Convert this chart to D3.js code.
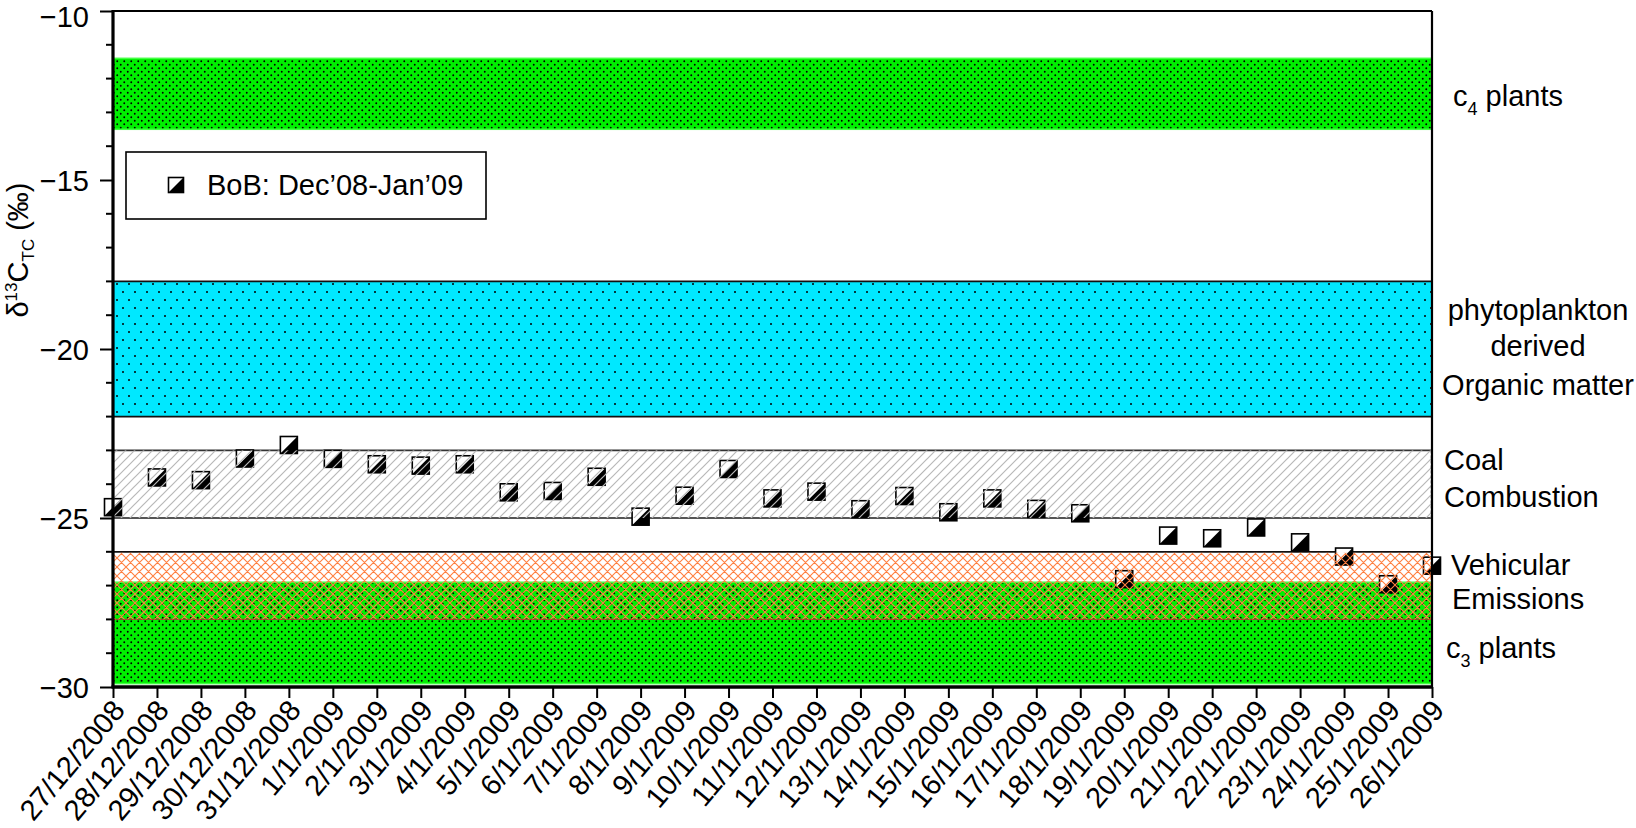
<!DOCTYPE html>
<html>
<head>
<meta charset="utf-8">
<script src="https://cdn.jsdelivr.net/npm/d3@7/dist/d3.min.js"></script>
<style>
  html, body { margin: 0; padding: 0; background: #fff; }
  svg { display: block; }
  text { font-family: "Liberation Sans", Arial, Helvetica, sans-serif; fill: #000; }
</style>
</head>
<body>
<svg id="chart" width="1636" height="828"></svg>
<script>
// ---------------- DATA ----------------
const dates = ["27/12/2008","28/12/2008","29/12/2008","30/12/2008","31/12/2008",
  "1/1/2009","2/1/2009","3/1/2009","4/1/2009","5/1/2009","6/1/2009","7/1/2009",
  "8/1/2009","9/1/2009","10/1/2009","11/1/2009","12/1/2009","13/1/2009","14/1/2009",
  "15/1/2009","16/1/2009","17/1/2009","18/1/2009","19/1/2009","20/1/2009","21/1/2009",
  "22/1/2009","23/1/2009","24/1/2009","25/1/2009","26/1/2009"];
const d13C = [-24.68,-23.80,-23.88,-23.24,-22.84,
  -23.25,-23.41,-23.45,-23.41,-24.24,-24.20,-23.78,
  -24.96,-24.34,-23.55,-24.42,-24.22,-24.74,-24.35,
  -24.83,-24.42,-24.73,-24.86,-26.81,-25.52,-25.60,
  -25.28,-25.72,-26.14,-26.96,-26.41];
const seriesName = "BoB: Dec\u201908-Jan\u201909";
const yTickValues = [-10, -15, -20, -25, -30];
const yDomain = [-30, -10];

// source bands (upper and lower bound, ‰)
const bandNames  = ["c4 plants", "phytoplankton", "coal", "c3 plants", "vehicular"];
const bandUpper  = [-11.4, -18.0, -23.0, -26.9, -26.0];
const bandLower  = [-13.5, -22.0, -25.0, -29.9, -28.0];

// ---------------- LAYOUT ----------------
const svg = d3.select("#chart");
const L = 113, R = 1432, T = 11, B = 687;
const font = 29;

const x = d3.scalePoint().domain(dates).range([L, R]).padding(0);
const y = d3.scaleLinear().domain(yDomain).range([B, T]);

const defs = svg.append("defs");
// green dotted
const pg = defs.append("pattern").attr("id","greenDots").attr("patternUnits","userSpaceOnUse")
  .attr("width",7).attr("height",7);
pg.append("rect").attr("width",7).attr("height",7).attr("fill","#00f000");
pg.append("circle").attr("cx",1.75).attr("cy",1.75).attr("r",0.95).attr("fill","#000");
pg.append("circle").attr("cx",5.25).attr("cy",5.25).attr("r",0.95).attr("fill","#000");
// cyan sparse dots
const pc = defs.append("pattern").attr("id","cyanDots").attr("patternUnits","userSpaceOnUse")
  .attr("width",12).attr("height",16);
pc.append("rect").attr("width",12).attr("height",16).attr("fill","#00e8ff");
pc.append("circle").attr("cx",3).attr("cy",4).attr("r",1).attr("fill","#000");
pc.append("circle").attr("cx",9).attr("cy",12).attr("r",1).attr("fill","#000");
// gray diagonal hatch (lines only)
const ph = defs.append("pattern").attr("id","grayHatch").attr("patternUnits","userSpaceOnUse")
  .attr("width",9).attr("height",9);
ph.append("path").attr("d","M-2,11 L11,-2 M-2,2 L2,-2 M7,11 L11,7")
  .attr("stroke","#b8b8b8").attr("stroke-width",1.2).attr("fill","none");
// orange crosshatch (lines only)
const po = defs.append("pattern").attr("id","orangeX").attr("patternUnits","userSpaceOnUse")
  .attr("width",9).attr("height",9);
po.append("path").attr("d","M0,0 L9,9 M9,0 L0,9 M-1,8 L1,10 M8,-1 L10,1 M-1,1 L1,-1 M8,10 L10,8")
  .attr("stroke","#ff7f40").attr("stroke-width",1.1).attr("fill","none");

// ---------------- BANDS (fills) ----------------
const band = i => ({ y0: y(bandUpper[i]), y1: y(bandLower[i]) });
const plotW = R - L;

// c4
let b = band(0);
svg.append("rect").attr("x",L).attr("y",b.y0).attr("width",plotW).attr("height",b.y1-b.y0)
  .attr("fill","url(#greenDots)").attr("stroke","#44ff44").attr("stroke-width",1.5);
// phytoplankton
b = band(1);
svg.append("rect").attr("x",L).attr("y",b.y0).attr("width",plotW).attr("height",b.y1-b.y0)
  .attr("fill","url(#cyanDots)");
svg.append("line").attr("x1",L).attr("x2",R).attr("y1",b.y0).attr("y2",b.y0).attr("stroke","#111").attr("stroke-width",1.6);
svg.append("line").attr("x1",L).attr("x2",R).attr("y1",b.y1).attr("y2",b.y1).attr("stroke","#111").attr("stroke-width",1.6);
// c3
b = band(3);
svg.append("rect").attr("x",L).attr("y",b.y0).attr("width",plotW).attr("height",b.y1-b.y0)
  .attr("fill","url(#greenDots)").attr("stroke","#44ff44").attr("stroke-width",1.5);

// coal lines
b = band(2);
const coal = b;
svg.append("line").attr("x1",L).attr("x2",R).attr("y1",b.y0).attr("y2",b.y0).attr("stroke","#333").attr("stroke-width",1.6);
svg.append("line").attr("x1",L).attr("x2",R).attr("y1",b.y1).attr("y2",b.y1).attr("stroke","#555").attr("stroke-width",1.8);

// vehicular lines
b = band(4);
const veh = b;
svg.append("line").attr("x1",L).attr("x2",R).attr("y1",b.y0).attr("y2",b.y0).attr("stroke","#111").attr("stroke-width",1.8);
svg.append("line").attr("x1",L).attr("x2",R).attr("y1",b.y1).attr("y2",b.y1).attr("stroke","#8a4a2a").attr("stroke-width",1.2);

// ---------------- MARKERS ----------------
const ms = 17;
function marker(g, cx, cy, s) {
  g.append("rect").attr("x",cx-s/2).attr("y",cy-s/2).attr("width",s).attr("height",s)
    .attr("fill","#fff").attr("stroke","#000").attr("stroke-width",1.6);
  g.append("path").attr("d",`M${cx+s/2},${cy-s/2} L${cx+s/2},${cy+s/2} L${cx-s/2},${cy+s/2} Z`)
    .attr("fill","#000");
}
const mg = svg.append("g");
d13C.forEach((v, i) => marker(mg, x(dates[i]), y(v), ms));

// ---------------- HATCH OVERLAYS ----------------
svg.append("rect").attr("x",L).attr("y",coal.y0).attr("width",plotW).attr("height",coal.y1-coal.y0)
  .attr("fill","url(#grayHatch)");
svg.append("line").attr("x1",R-1).attr("x2",R-1).attr("y1",coal.y0).attr("y2",coal.y1)
  .attr("stroke","#999").attr("stroke-width",1).attr("stroke-dasharray","3,2");
svg.append("rect").attr("x",L).attr("y",veh.y0+1).attr("width",plotW).attr("height",veh.y1-veh.y0-1)
  .attr("fill","url(#orangeX)");
svg.append("line").attr("x1",R-1).attr("x2",R-1).attr("y1",veh.y0).attr("y2",veh.y1)
  .attr("stroke","#ff7f40").attr("stroke-width",1.2).attr("stroke-dasharray","3,2");

// ---------------- FRAME / AXES ----------------
svg.append("line").attr("x1",L).attr("x2",R).attr("y1",T).attr("y2",T).attr("stroke","#000").attr("stroke-width",2);
svg.append("line").attr("x1",R).attr("x2",R).attr("y1",T).attr("y2",B).attr("stroke","#000").attr("stroke-width",2.2);

const yAxis = d3.axisLeft(y).tickValues(yTickValues).tickSize(13)
  .tickFormat(d => d3.format("d")(d).replace("-", "\u2212"));
const yg = svg.append("g").attr("transform",`translate(${L},0)`).call(yAxis);
yg.select(".domain").remove();
yg.selectAll(".tick line").attr("stroke","#000").attr("stroke-width",2);
yg.selectAll(".tick text").attr("font-size",font).attr("x",-24)
  .attr("dy", d => d === yDomain[1] ? "0.52em" : "0.36em")
  .style("font-family","'Liberation Sans', Arial, sans-serif");
// minor ticks
const minor = d3.range(yDomain[0], yDomain[1] + 1).filter(v => !yTickValues.includes(v));
svg.append("g").selectAll("line").data(minor).join("line")
  .attr("x1",L-7).attr("x2",L).attr("y1",d=>y(d)).attr("y2",d=>y(d))
  .attr("stroke","#000").attr("stroke-width",2);
svg.append("line").attr("x1",L).attr("x2",L).attr("y1",T-1).attr("y2",B+1).attr("stroke","#000").attr("stroke-width",3.2);

const xAxis = d3.axisBottom(x).tickSize(11).tickSizeOuter(0);
const xg = svg.append("g").attr("transform",`translate(0,${B})`).call(xAxis);
xg.select(".domain").remove();
xg.selectAll(".tick line").attr("stroke","#000").attr("stroke-width",2);
xg.selectAll(".tick text").attr("font-size",font).attr("text-anchor","end")
  .attr("x",0).attr("y",0).attr("dy",0)
  .attr("transform","translate(13,24) rotate(-50)")
  .style("font-family","'Liberation Sans', Arial, sans-serif");
svg.append("line").attr("x1",L-1.5).attr("x2",R+1).attr("y1",B).attr("y2",B).attr("stroke","#000").attr("stroke-width",3.5);

// ---------------- Y TITLE ----------------
const yt = svg.append("text").attr("transform","translate(28,250) rotate(-90)")
  .attr("text-anchor","middle").attr("font-size",font);
yt.append("tspan").text("\u03B4");
yt.append("tspan").attr("font-size",17).attr("dy",-11).text("13");
yt.append("tspan").attr("dy",11).text("C");
yt.append("tspan").attr("font-size",17).attr("dy",6).text("TC");
yt.append("tspan").attr("dy",-6).text(" (\u2030)");

// ---------------- LEGEND ----------------
svg.append("rect").attr("x",126).attr("y",152).attr("width",360).attr("height",67)
  .attr("fill","#fff").attr("stroke","#000").attr("stroke-width",1.6);
marker(svg.append("g"), 176, 185, 15);
svg.append("text").attr("x",207).attr("y",195).attr("font-size",font).text(seriesName);

// ---------------- RIGHT LABELS ----------------
function subLabel(xp, yp, a, sub, rest) {
  const t = svg.append("text").attr("x",xp).attr("y",yp).attr("font-size",font);
  t.append("tspan").text(a);
  t.append("tspan").attr("font-size",18).attr("dy",9).text(sub);
  t.append("tspan").attr("dy",-9).text(rest);
}
subLabel(1453, 106, "c", "4", " plants");
[["phytoplankton",320],["derived",356],["Organic matter",395]].forEach(([s,yy]) =>
  svg.append("text").attr("x",1538).attr("y",yy).attr("text-anchor","middle").attr("font-size",font).text(s));
svg.append("text").attr("x",1444).attr("y",470).attr("font-size",font).text("Coal");
svg.append("text").attr("x",1444).attr("y",507).attr("font-size",font).text("Combustion");
svg.append("text").attr("x",1451).attr("y",575).attr("font-size",font).text("Vehicular");
svg.append("text").attr("x",1452).attr("y",609).attr("font-size",font).text("Emissions");
subLabel(1446, 658, "c", "3", " plants");
</script>
</body>
</html>
